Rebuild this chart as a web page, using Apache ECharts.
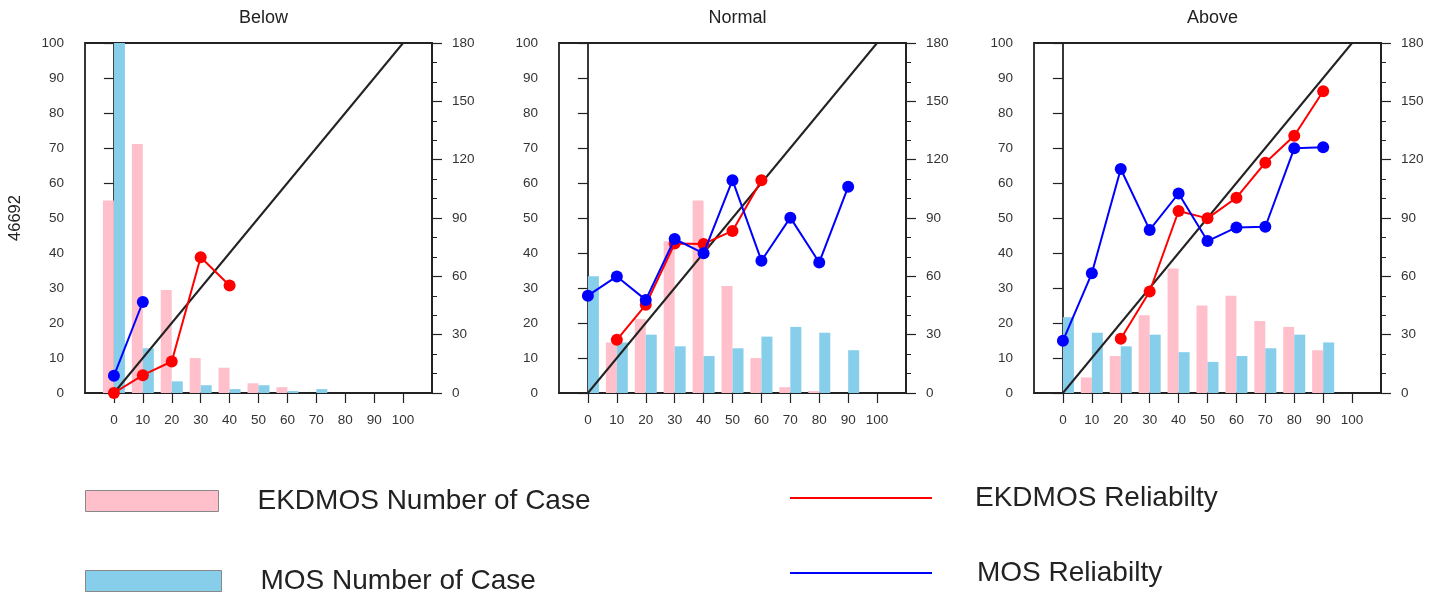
<!DOCTYPE html>
<html>
<head>
<meta charset="utf-8">
<script src="https://cdn.jsdelivr.net/npm/echarts@6/dist/echarts.min.js"></script>
<style>
  html, body { margin: 0; padding: 0; background: #ffffff; }
  #chart { width: 1435px; height: 594px; }
</style>
</head>
<body>
<div id="chart"></div>
<script>
// Forecast probability bins (x axis) and panel labels
const xTicks = [0, 10, 20, 30, 40, 50, 60, 70, 80, 90, 100];
const panelTitles = ['Below', 'Normal', 'Above'];
const stationId = '46692';

// Number of cases in each bin (right axis)
const belowEkdmosCases  = [99, 128, 53, 18, 13, 5, 3, 0, 0, 0, 0];
const belowMosCases     = [215, 23, 6, 4, 2, 4, 1, 2, 0, 0, 0];
const normalEkdmosCases = [0, 26, 38, 78, 99, 55, 18, 3, 1, 0, 0];
const normalMosCases    = [60, 26, 30, 24, 19, 23, 29, 34, 31, 22, 0];
const aboveEkdmosCases  = [0, 8, 19, 40, 64, 45, 50, 37, 34, 22, 0];
const aboveMosCases     = [39, 31, 24, 30, 21, 16, 19, 23, 30, 26, 0];

// Observed relative frequency (%) in each bin (left axis); null = empty bin
const belowEkdmosRel  = [0, 5.1, 9, 38.8, 30.7, null, null, null, null, null, null];
const belowMosRel     = [4.9, 26, null, null, null, null, null, null, null, null, null];
const normalEkdmosRel = [null, 15.2, 25.2, 42.7, 42.6, 46.3, 60.8, null, null, null, null];
const normalMosRel    = [27.8, 33.3, 26.6, 44, 39.9, 60.8, 37.8, 50.1, 37.3, 58.9, null];
const aboveEkdmosRel  = [null, null, 15.5, 29, 52, 49.9, 55.8, 65.8, 73.5, 86.2, null];
const aboveMosRel     = [14.9, 34.2, 64, 46.6, 57, 43.4, 47.3, 47.5, 69.9, 70.2, null];

// Perfect-reliability diagonal
const diagonal = [[0, 0], [100, 100]];

const panels = [
  { ekdCases: belowEkdmosCases,  mosCases: belowMosCases,  ekdRel: belowEkdmosRel,  mosRel: belowMosRel },
  { ekdCases: normalEkdmosCases, mosCases: normalMosCases, ekdRel: normalEkdmosRel, mosRel: normalMosRel },
  { ekdCases: aboveEkdmosCases,  mosCases: aboveMosCases,  ekdRel: aboveEkdmosRel,  mosRel: aboveMosRel }
];

const FONT = 'Liberation Sans, Arial, Helvetica, sans-serif';
const AXIS_COLOR = '#222';
const PINK = '#ffc0cb';
const SKY = '#87ceeb';
const RED = '#ff0000';
const BLUE = '#0000ff';

const gridLefts = [85, 559, 1034];
const GRID_TOP = 43, GRID_W = 347, GRID_H = 350;

const pairs = (vals) => xTicks.map((x, i) => [x, vals[i]]).filter(p => p[1] !== null);

const grids = [], xAxes = [], yAxes = [], series = [], titles = [];

panels.forEach((p, i) => {
  grids.push({
    left: gridLefts[i], top: GRID_TOP, width: GRID_W, height: GRID_H,
    show: true, borderColor: AXIS_COLOR, borderWidth: 1.8, backgroundColor: 'transparent'
  });
  titles.push({
    text: panelTitles[i],
    left: gridLefts[i] + GRID_W / 2, top: 4, textAlign: 'center',
    textStyle: { fontFamily: FONT, fontSize: 18, fontWeight: 'normal', color: '#222' }
  });
  xAxes.push({
    gridIndex: i, type: 'value', min: -10, max: 110, interval: 10,
    axisLine: { show: true, lineStyle: { color: AXIS_COLOR, width: 1.8 } },
    axisTick: { show: true, length: 10, customValues: xTicks, lineStyle: { color: AXIS_COLOR, width: 1.2 } },
    axisLabel: { customValues: xTicks, margin: 20, color: '#333', fontFamily: FONT, fontSize: 13.5 },
    splitLine: { show: false }
  });
  yAxes.push({
    gridIndex: i, type: 'value', position: 'left', min: 0, max: 100, interval: 10,
    name: i === 0 ? stationId : '', nameLocation: 'middle', nameGap: 61, nameRotate: 90,
    nameTextStyle: { fontFamily: FONT, fontSize: 16.5, color: '#222' },
    axisLine: { show: true, lineStyle: { color: AXIS_COLOR, width: 1.8 } },
    axisTick: { show: true, length: 10, lineStyle: { color: AXIS_COLOR, width: 1.2 } },
    axisLabel: { margin: 21, color: '#333', fontFamily: FONT, fontSize: 13.5 },
    splitLine: { show: false }
  });
  yAxes.push({
    gridIndex: i, type: 'value', position: 'right', min: 0, max: 180, interval: 30,
    axisLine: { show: true, lineStyle: { color: AXIS_COLOR, width: 1.8 } },
    axisTick: { show: true, length: 10, lineStyle: { color: AXIS_COLOR, width: 1.2 } },
    minorTick: { show: true, splitNumber: 3, length: 5, lineStyle: { color: AXIS_COLOR, width: 1 } },
    axisLabel: { margin: 20, color: '#333', fontFamily: FONT, fontSize: 13.5 },
    splitLine: { show: false }
  });

  series.push({
    name: 'EKDMOS Number of Case', type: 'bar', xAxisIndex: i, yAxisIndex: 2 * i + 1,
    data: pairs(p.ekdCases), barWidth: 11, barGap: '0%', z: 2,
    itemStyle: { color: PINK }, silent: true
  });
  series.push({
    name: 'MOS Number of Case', type: 'bar', xAxisIndex: i, yAxisIndex: 2 * i + 1,
    data: pairs(p.mosCases), barWidth: 11, barGap: '0%', z: 2,
    itemStyle: { color: SKY }, silent: true
  });
  series.push({
    name: 'diagonal', type: 'line', xAxisIndex: i, yAxisIndex: 2 * i,
    data: diagonal, symbol: 'none', z: 3,
    lineStyle: { color: AXIS_COLOR, width: 2 }, silent: true
  });
  series.push({
    name: 'EKDMOS Reliabilty', type: 'line', xAxisIndex: i, yAxisIndex: 2 * i,
    data: pairs(p.ekdRel), symbol: 'circle', symbolSize: 12, z: 4,
    lineStyle: { color: RED, width: 2 }, itemStyle: { color: RED }, silent: true
  });
  series.push({
    name: 'MOS Reliabilty', type: 'line', xAxisIndex: i, yAxisIndex: 2 * i,
    data: pairs(p.mosRel), symbol: 'circle', symbolSize: 12, z: 5,
    lineStyle: { color: BLUE, width: 2 }, itemStyle: { color: BLUE }, silent: true
  });
});

const legendText = { fontFamily: FONT, fontSize: 28, color: '#222', padding: [0, 0, 0, 34] };
const legends = [
  { data: [{ name: 'EKDMOS Number of Case', icon: 'rect' }], left: 85, top: 487,
    itemWidth: 133, itemHeight: 21, itemStyle: { borderColor: '#888', borderWidth: 1 } },
  { data: [{ name: 'MOS Number of Case', icon: 'rect' }], left: 85, top: 567,
    itemWidth: 136, itemHeight: 21, itemStyle: { borderColor: '#888', borderWidth: 1 } },
  { data: [{ name: 'EKDMOS Reliabilty', icon: 'rect', itemStyle: { color: RED } }], left: 790, top: 484,
    itemWidth: 142, itemHeight: 2, textStyle: Object.assign({}, legendText, { padding: [0, 0, 0, 38] }) },
  { data: [{ name: 'MOS Reliabilty', icon: 'rect', itemStyle: { color: BLUE } }], left: 790, top: 559,
    itemWidth: 142, itemHeight: 2, textStyle: Object.assign({}, legendText, { padding: [0, 0, 0, 40] }) }
].map(l => Object.assign({ orient: 'horizontal', padding: 0, selectedMode: false, textStyle: legendText }, l));

const chart = echarts.init(document.getElementById('chart'), null, { renderer: 'canvas' });
chart.setOption({
  animation: false,
  backgroundColor: '#ffffff',
  title: titles,
  legend: legends,
  grid: grids,
  xAxis: xAxes,
  yAxis: yAxes,
  series: series
});
</script>
</body>
</html>
